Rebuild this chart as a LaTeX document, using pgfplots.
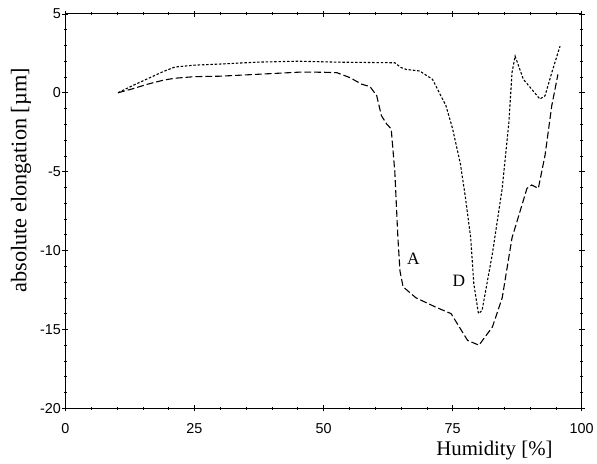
\documentclass[border=0pt]{standalone}
\usepackage{fontspec}
\setmainfont{Liberation Serif}
\newfontfamily\ticksf{Liberation Sans}
\usepackage{pgfplots}
\pgfplotsset{compat=1.18}
\begin{document}
\begin{tikzpicture}
\begin{axis}[
  scale only axis, width=521pt, height=398pt,
  xmin=0, xmax=100, ymin=-20, ymax=5,
  xtick={0,25,50,75,100}, ytick={-20,-15,-10,-5,0,5},
  minor x tick num=4, minor y tick num=4,
  tick pos=both, tick align=center,
  major tick length=6pt, minor tick length=3pt,
  axis line style={line width=1pt},
  every tick/.style={black, line width=0.6pt},
  /pgf/number format/assume math mode=true,
  tick label style={font=\ticksf\fontsize{14.5}{14.5}\selectfont},
  xticklabel style={yshift=-9pt},
  yticklabel style={xshift=2pt},
  xlabel={Humidity [\%]},
  ylabel={absolute elongation [\textmu m]},
  xlabel style={font=\fontsize{21}{21}\selectfont, at={(axis description cs:0.831,-0.108)}, anchor=center},
  ylabel style={font=\fontsize{22.5}{22.5}\selectfont, at={(axis description cs:-0.086,0.578)}, anchor=center},
]
\addplot[black, line width=1.1pt, dash pattern=on 7pt off 3pt] coordinates {
(10.2,0) (13,0.25) (16,0.55) (19,0.8) (21.2,0.92) (25,1.02) (30,1.05) (37.2,1.17)
(42,1.25) (45.5,1.31) (50,1.3) (52.6,1.27) (55.1,0.96) (57.4,0.54) (59.0,0.39)
(60.3,-0.19) (61.2,-1.45) (62.2,-1.97) (63.1,-2.29) (63.8,-5.0) (64.4,-9.2)
(64.8,-11.3) (65.4,-12.3) (67.9,-13.0) (71.8,-13.6) (74.7,-14.0) (76.3,-14.85)
(77.9,-15.7) (80.1,-16.0) (82.7,-14.85) (84.6,-13.0) (86.5,-9.2) (89.4,-6.06)
(90.3,-5.85) (91.6,-6.06) (92.9,-3.96) (94.2,-0.82) (95.4,1.17)
};
\addplot[black, line width=1.1pt, dash pattern=on 2.5pt off 1.8pt] coordinates {
(10.2,0) (13,0.45) (16,0.9) (19,1.35) (21.2,1.63) (25,1.75) (30,1.82) (37.2,1.94)
(45,2.0) (52.6,1.94) (63.8,1.9) (65.0,1.6) (66.0,1.48) (68.6,1.38) (71.1,0.85)
(73.7,-0.82) (75.0,-2.29) (76.5,-4.5) (77.5,-6.69) (78.5,-9.2) (79.1,-12.1)
(80.0,-14.0) (80.7,-13.8) (82.7,-10.2) (84.6,-6.06) (85.9,-1.87) (86.5,1.27)
(87.1,2.32) (88.7,0.85) (90.3,0.23) (91.9,-0.4) (92.9,-0.19) (94.2,1.27) (95.8,2.95)
};
\node[font=\fontsize{17.5}{17.5}\selectfont] at (axis cs:67.4,-10.5) {A};
\node[font=\fontsize{17.5}{17.5}\selectfont] at (axis cs:76.2,-11.9) {D};
\end{axis}
\path (current axis.south west) ++(-66pt,-56pt) coordinate (bl);
\path (current axis.north east) ++(10pt,14pt) coordinate (tr);
\path (bl) rectangle (tr);
\end{tikzpicture}
\end{document}
